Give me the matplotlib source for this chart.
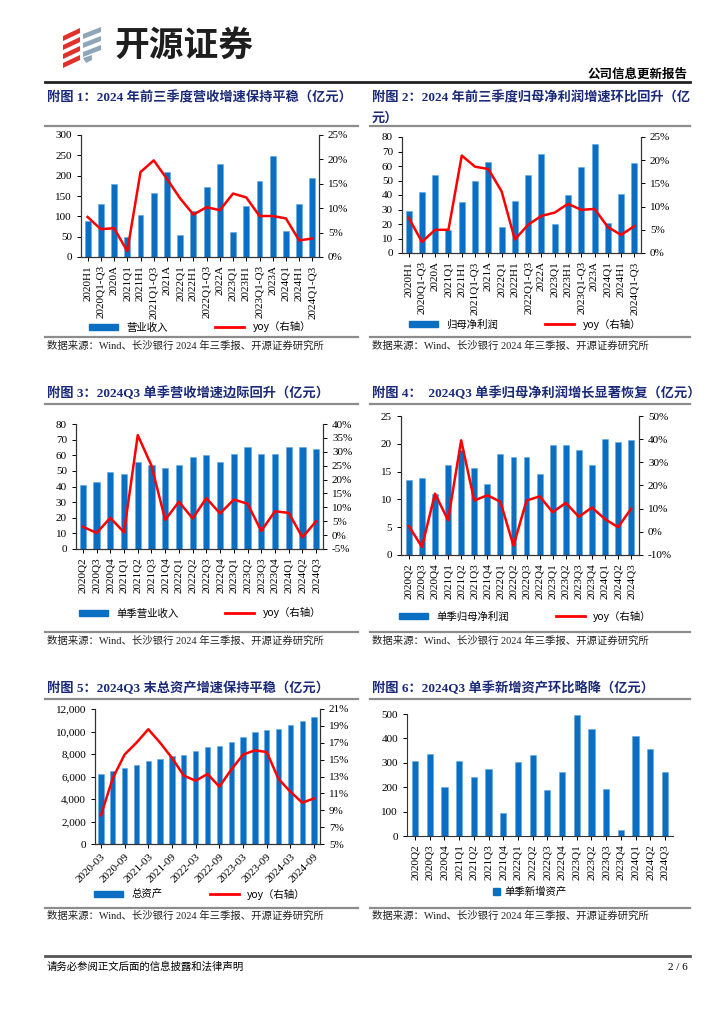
import matplotlib.pyplot as plt
from matplotlib.patches import Patch, Polygon
from matplotlib.lines import Line2D
from matplotlib.ticker import FuncFormatter

W, H = 724, 1024
SERIF = ['Liberation Serif', 'Noto Sans CJK SC']
CJK = ['Noto Sans CJK SC', 'DejaVu Sans']
BLUE = '#0A6FC2'
RED = '#FF0000'
NAVY = '#1A2A78'

# 附图1 / 附图2 categories
cum_cats = ['2020H1', '2020Q1-Q3', '2020A', '2021Q1', '2021H1', '2021Q1-Q3', '2021A',
            '2022Q1', '2022H1', '2022Q1-Q3', '2022A', '2023Q1', '2023H1', '2023Q1-Q3',
            '2023A', '2024Q1', '2024H1', '2024Q1-Q3']
revenue = [88, 131, 180, 48, 104, 157, 209, 54, 113, 173, 229, 61, 126, 187, 248, 65, 130, 194]
revenue_yoy = [8.2, 5.7, 5.9, 1.2, 17.4, 19.8, 16.0, 12.0, 8.7, 10.2, 9.6, 13.0, 12.2, 8.4,
               8.4, 7.9, 3.4, 3.8]
profit = [29, 42, 54, 16, 35, 50, 63, 18, 36, 54, 68, 20, 40, 59, 75, 21, 41, 62]
profit_yoy = [7.6, 2.4, 5.0, 5.0, 21.0, 18.6, 18.1, 13.3, 2.9, 6.1, 8.0, 8.7, 10.6, 9.3,
              9.5, 5.6, 3.9, 5.8]

# 附图3 / 4 / 6 quarterly categories
q_cats = ['2020Q2', '2020Q3', '2020Q4', '2021Q1', '2021Q2', '2021Q3', '2021Q4', '2022Q1',
          '2022Q2', '2022Q3', '2022Q4', '2023Q1', '2023Q2', '2023Q3', '2023Q4', '2024Q1',
          '2024Q2', '2024Q3']
q_revenue = [41, 43, 49, 48, 55.5, 53.5, 52, 54, 59, 60, 56, 61, 65, 61, 60.5, 65.5, 65, 64]
q_revenue_yoy = [3.0, 0.8, 6.2, 1.0, 36.0, 25.0, 5.5, 12.0, 6.0, 13.3, 7.8, 12.8, 11.3, 1.5,
                 8.6, 8.0, -0.8, 5.0]
q_profit = [13.4, 13.8, 11.0, 16.1, 18.8, 15.6, 12.7, 18.2, 17.6, 17.7, 14.6, 19.8, 19.8,
            18.8, 16.2, 20.9, 20.3, 20.6]
q_profit_yoy = [2.5, -6.5, 16.5, 5.0, 39.5, 13.5, 15.8, 13.0, -6.0, 13.5, 15.3, 8.5, 12.5,
                6.5, 10.5, 5.5, 2.0, 10.0]
q_new_assets = [307, 337, 200, 307, 243, 275, 95, 303, 334, 187, 261, 497, 438, 193, 23,
                411, 356, 262]

# 附图5 total assets
a_cats = ['2020-03', '2020-06', '2020-09', '2020-12', '2021-03', '2021-06', '2021-09',
          '2021-12', '2022-03', '2022-06', '2022-09', '2022-12', '2023-03', '2023-06',
          '2023-09', '2023-12', '2024-03', '2024-06', '2024-09']
assets = [6200, 6450, 6800, 7000, 7350, 7600, 7850, 7950, 8250, 8600, 8750, 9050, 9550,
          9950, 10150, 10200, 10600, 10950, 11250]
assets_yoy = [8.4, 12.8, 15.6, 17.0, 18.6, 17.0, 15.2, 13.1, 12.5, 13.3, 11.8, 13.8, 15.6,
              16.1, 15.9, 12.7, 11.2, 9.9, 10.4]

titles = ['附图 1：2024 年前三季度营收增速保持平稳（亿元）',
          '附图 2：2024 年前三季度归母净利润增速环比回升（亿',
          '附图 3：2024Q3 单季营收增速边际回升（亿元）',
          '附图 4：  2024Q3 单季归母净利润增长显著恢复（亿元）',
          '附图 5：2024Q3 末总资产增速保持平稳（亿元）',
          '附图 6：2024Q3 单季新增资产环比略降（亿元）']
source = '数据来源：Wind、长沙银行 2024 年三季报、开源证券研究所'


def rect(l, t, r, b):
    return [l / W, 1 - b / H, (r - l) / W, (b - t) / H]


fig = plt.figure(figsize=(W / 100, H / 100), dpi=100)
bg = fig.add_axes([0, 0, 1, 1], zorder=0)
bg.set_xlim(0, W)
bg.set_ylim(H, 0)
bg.axis('off')

# logo
for i in range(4):
    y = 30 + i * 9
    bg.add_patch(Polygon([(63, y + 6), (80, y - 2), (80, y + 3), (63, y + 11)],
                         closed=True, color='#E0322B', lw=0))
for i in range(3):
    y = 30 + i * 9
    bg.add_patch(Polygon([(83, y + 4), (101, y - 3), (101, y + 2), (83, y + 9)],
                         closed=True, color='#8FA6B8', lw=0))
bg.add_patch(Polygon([(83, 58), (92, 55), (92, 60), (86, 63)], closed=True,
                     color='#8FA6B8', lw=0))
bg.text(114, 45, '开源证券', family=CJK, fontsize=25, fontweight='bold',
        color='#1E1E1E', va='center', ha='left')
bg.text(688, 74, '公司信息更新报告', family=CJK, fontsize=9, fontweight='bold',
        ha='right', va='center')
bg.plot([45, 690], [82, 82], color='#222222', lw=2)

# titles, separators and source lines
cols = [(45, 358), (370, 690)]
rows = [(98, 126, 337, 346), (393, 404, 632, 641), (688, 699, 908, 916)]
for r, (ty, ly, sy, st) in enumerate(rows):
    for c, (x0, x1) in enumerate(cols):
        bg.text(x0 + 2, ty, titles[r * 2 + c], family=SERIF, fontsize=9.5,
                fontweight='bold', color=NAVY, va='center', ha='left')
        bg.plot([x0, x1], [ly, ly], color='#8C8C8C', lw=1.6)
        bg.plot([x0, x1], [sy, sy], color='#8C8C8C', lw=1.6)
        bg.text(x0 + 2, st, source, family=SERIF, fontsize=7.5, color='#222222',
                va='center', ha='left')
bg.text(372, 118, '元）', family=SERIF, fontsize=9.5, fontweight='bold', color=NAVY,
        va='center', ha='left')

# footer
bg.plot([45, 690], [956, 956], color='#555555', lw=2)
bg.text(47, 967, '请务必参阅正文后面的信息披露和法律声明', family=CJK, fontsize=7.5,
        va='center', ha='left')
bg.text(688, 967, '2 / 6', family=SERIF, fontsize=8, va='center', ha='right')


def style_axis(ax):
    ax.tick_params(labelsize=8, length=3, width=0.7)
    for lab in ax.get_xticklabels() + ax.get_yticklabels():
        lab.set_family(SERIF)
    for s in ax.spines.values():
        s.set_linewidth(0.8)
        s.set_color('#333333')
    ax.spines['top'].set_visible(False)


def dual_chart(box, cats, bars, yoy, ylim, yticks, rlim, rticks, bar_label, legend_xy,
               rot=90, every=1, width=0.45, margin=0.5, fmt=None):
    ax = fig.add_axes(rect(*box), zorder=2)
    x = list(range(len(cats)))
    ax.bar(x, bars, width=width, color=BLUE, edgecolor='#5FA8E0', linewidth=0.4)
    ax.set_xlim(-margin, len(cats) - 1 + margin)
    ax.set_ylim(*ylim)
    ax.set_yticks(yticks)
    if fmt:
        ax.yaxis.set_major_formatter(FuncFormatter(fmt))
    ax.set_xticks(x[::every])
    if rot == 90:
        ax.set_xticklabels(cats[::every], rotation=90)
    else:
        ax.set_xticklabels(cats[::every], rotation=rot, ha='right', rotation_mode='anchor')
    ax.tick_params(axis='x', length=0, pad=3)
    ax2 = ax.twinx()
    ax2.plot(x, yoy, color=RED, lw=1.8)
    ax2.set_ylim(*rlim)
    ax2.set_yticks(rticks)
    ax2.yaxis.set_major_formatter(FuncFormatter(lambda v, _: f'{v:.0f}%'))
    style_axis(ax)
    style_axis(ax2)
    handles = [Patch(color=BLUE), Line2D([0], [0], color=RED, lw=2)]
    ax.legend(handles, [bar_label, 'yoy（右轴）'], loc='center',
              bbox_to_anchor=legend_xy, bbox_transform=bg.transData, ncol=2,
              frameon=False, handlelength=2.8, handleheight=0.5,
              columnspacing=4.5, prop={'family': CJK, 'size': 7.5})
    return ax


dual_chart((81, 135, 319, 257), cum_cats, revenue, revenue_yoy, (0, 300),
           range(0, 301, 50), (0, 25), range(0, 26, 5), '营业收入', (200, 327))
dual_chart((402, 137, 641, 253), cum_cats, profit, profit_yoy, (0, 80),
           range(0, 81, 10), (0, 25), range(0, 26, 5), '归母净利润', (525, 324))
dual_chart((76, 424, 323, 549), q_cats, q_revenue, q_revenue_yoy, (0, 80),
           range(0, 81, 10), (-5, 40), range(-5, 41, 5), '单季营业收入', (200, 613))
dual_chart((401, 416, 639, 555), q_cats, q_profit, q_profit_yoy, (0, 25),
           range(0, 26, 5), (-10, 50), range(-10, 51, 10), '单季归母净利润', (525, 616),
           margin=0.6)
dual_chart((95, 709, 320, 844), a_cats, assets, assets_yoy, (0, 12000),
           range(0, 12001, 2000), (5, 21), range(5, 22, 2), '总资产', (200, 894),
           rot=45, every=2, fmt=lambda v, _: f'{v:,.0f}')

# 附图6 single axis
ax6 = fig.add_axes(rect(407, 714, 673, 836), zorder=2)
x6 = list(range(len(q_cats)))
ax6.bar(x6, q_new_assets, width=0.42, color=BLUE, edgecolor='#5FA8E0', linewidth=0.4)
ax6.set_xlim(-0.55, len(q_cats) - 0.45)
ax6.set_ylim(0, 500)
ax6.set_yticks(range(0, 501, 100))
ax6.set_xticks(x6)
ax6.set_xticklabels(q_cats, rotation=90)
ax6.tick_params(axis='x', length=0, pad=3)
style_axis(ax6)
ax6.spines['right'].set_visible(False)
ax6.legend([Patch(color=BLUE)], ['单季新增资产'], loc='center', bbox_to_anchor=(530, 892),
           bbox_transform=bg.transData, frameon=False, handlelength=0.7,
           handleheight=0.7, handletextpad=0.4, prop={'family': CJK, 'size': 7.5})

fig.savefig('out.png', dpi=100)
